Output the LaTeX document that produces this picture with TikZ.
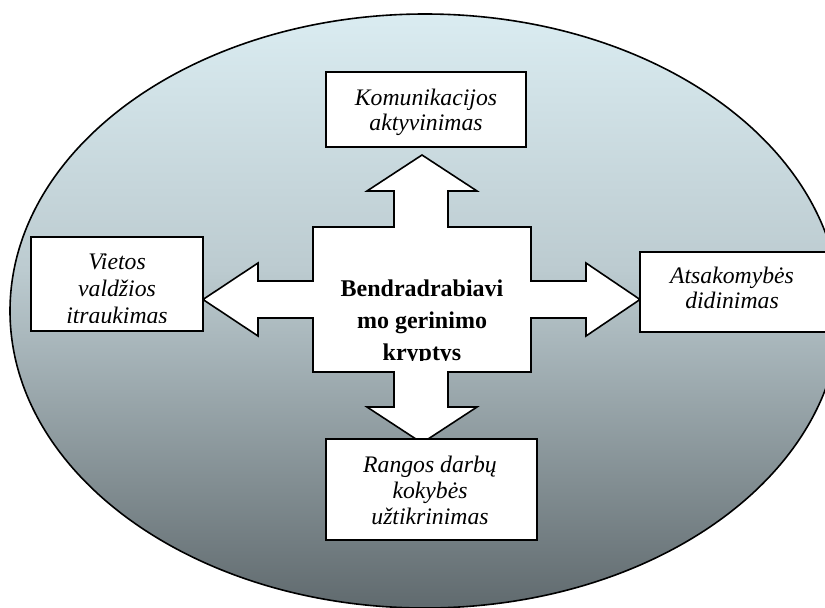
\documentclass[tikz,border=0pt]{standalone}
\usepackage{fontspec}
\setmainfont{Liberation Serif}
% vertical fill of the background oval: light aqua at the top, slate grey at the bottom
\definecolor{ovalTop}{RGB}{218,236,241}
\definecolor{ovalMid}{RGB}{188,203,208}
\definecolor{ovalBot}{RGB}{96,106,110}
\pgfdeclareverticalshading{ovalfill}{100bp}{%
  color(0bp)=(ovalBot); color(25bp)=(ovalBot);
  color(53.5bp)=(ovalMid);
  color(75bp)=(ovalTop); color(100bp)=(ovalTop)}
\begin{document}
\begin{tikzpicture}[x=1pt,y=-1pt,
  outline/.style={draw=black, line width=1.6pt, line join=miter},
  panel/.style={outline, fill=white, inner sep=0pt},
  itext/.style={font=\fontsize{23.7}{25}\selectfont\itshape, align=center, inner sep=0pt},
  btext/.style={font=\fontsize{24}{32}\selectfont\bfseries, align=center, inner sep=0pt}]
\useasboundingbox (0,0) rectangle (825,608);
\clip (0,0) rectangle (825,608);

% background oval
\path[shading=ovalfill, outline] (425,311) ellipse [x radius=415, y radius=297];

% four-way arrow around the central topic
\draw[outline, fill=white]
  (422,155) -- (477,191) -- (448,191) -- (448,227) -- (531,227) -- (531,281)
  -- (586,281) -- (586,263) -- (640,299.5) -- (586,336) -- (586,318) -- (531,318)
  -- (531,372) -- (448,372) -- (448,407) -- (477,407) -- (422,443) -- (367,407)
  -- (394,407) -- (394,372) -- (313,372) -- (313,318) -- (258,318) -- (258,336)
  -- (203,299.5) -- (258,263) -- (258,281) -- (313,281) -- (313,227) -- (394,227)
  -- (394,191) -- (367,191) -- cycle;

% direction boxes
\node[panel, minimum width=200pt, minimum height=75pt]  (topbox)    at (426,109.5) {};
\node[panel, minimum width=172pt, minimum height=94pt]  (leftbox)   at (117,284)   {};
\node[panel, minimum width=190pt, minimum height=80pt]  (rightbox)  at (735,292)   {};
\node[panel, minimum width=211pt, minimum height=101pt] (bottombox) at (431.5,489.5) {};

% box texts
\node[itext] (toptext) at (426,112) {Komunikacijos\\aktyvinimas};
\begin{scope}
  \clip (31,237) rectangle (203,322);
  \node[itext, font=\fontsize{23.7}{27}\selectfont\itshape] (lefttext) at (117,289.2)
    {Vietos\\valdžios\\itraukimas};
\end{scope}
\node[itext, font=\fontsize{23.7}{24.5}\selectfont\itshape] (righttext) at (732,288)
  {Atsakomybės\\didinimas};
\node[itext, font=\fontsize{23.7}{26}\selectfont\itshape] (bottomtext) at (430,490)
  {Rangos darbų\\kokybės\\užtikrinimas};

% central topic
\begin{scope}
  \clip (313,227) rectangle (531,360);
  \node[btext] (centretext) at (422,322.5) {Bendradrabiavi\\mo gerinimo\\kryptys};
\end{scope}
\end{tikzpicture}
\end{document}
